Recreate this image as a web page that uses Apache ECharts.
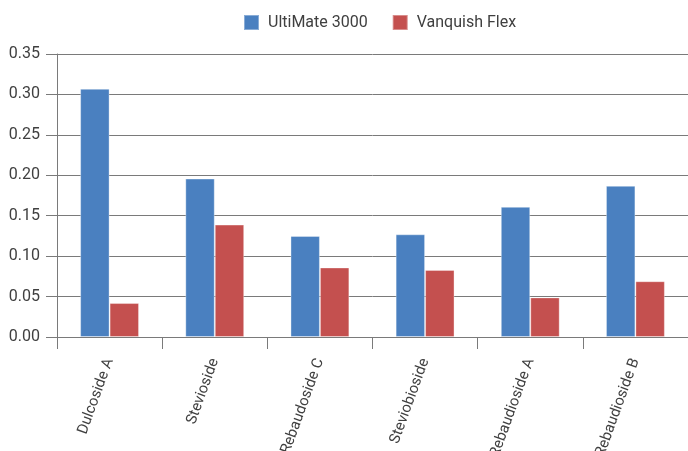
<!DOCTYPE html>
<html>
<head>
<meta charset="utf-8">
<script src="https://cdn.jsdelivr.net/npm/echarts@6/dist/echarts.min.js"></script>
<style>html,body{margin:0;padding:0;background:#fff}#c{width:688px;height:451px}</style>
</head>
<body>
<div id="c"></div>
<script>
var categories = ['Dulcoside A', 'Stevioside', 'Rebaudoside C', 'Steviobioside', 'Rebaudioside A', 'Rebaudioside B'];
var ultimate3000 = [0.307, 0.196, 0.125, 0.127, 0.161, 0.187];
var vanquishFlex = [0.042, 0.139, 0.086, 0.083, 0.049, 0.069];
var seriesNames = ['UltiMate 3000', 'Vanquish Flex'];
var yTicks = {min: 0, max: 0.35, interval: 0.05};

var chart = echarts.init(document.getElementById('c'));
var font = 'Roboto';
var txt = '#404040';
var gridCol = '#7a7a7a';
chart.setOption({
  animation: false,
  color: ['#4a80c0', '#c4504f'],
  legend: {
    top: 9, left: 238,
    itemWidth: 15, itemHeight: 15, itemGap: 24,
    icon: 'rect',
    textStyle: {fontFamily: font, fontSize: 16, color: txt, padding: [0, 0, 0, 4]},
    data: seriesNames
  },
  grid: {left: 57, right: 0, top: 54, bottom: 114, containLabel: false, outerBoundsMode: 'none'},
  xAxis: {
    type: 'category',
    data: categories,
    axisLine: {lineStyle: {color: gridCol, width: 1}},
    axisTick: {show: true, length: 12, alignWithLabel: false, lineStyle: {color: gridCol}},
    axisLabel: {rotate: 70, margin: 22, interval: 0, fontFamily: font, fontSize: 15, color: txt}
  },
  yAxis: {
    type: 'value',
    min: yTicks.min, max: yTicks.max, interval: yTicks.interval,
    axisLine: {show: true, lineStyle: {color: gridCol, width: 1}},
    axisTick: {show: true, length: 11, lineStyle: {color: gridCol}},
    splitLine: {lineStyle: {color: gridCol, width: 1}},
    axisLabel: {margin: 17, fontFamily: font, fontSize: 16, color: txt,
      formatter: function (v) { return v.toFixed(2); }}
  },
  series: [
    {name: seriesNames[0], type: 'bar', data: ultimate3000, barGap: '0%', barCategoryGap: '44%',
     itemStyle: {borderColor: 'rgba(255,255,255,0.35)', borderWidth: 1}},
    {name: seriesNames[1], type: 'bar', data: vanquishFlex, barGap: '0%', barCategoryGap: '44%',
     itemStyle: {borderColor: 'rgba(255,255,255,0.35)', borderWidth: 1}}
  ]
});
</script>
</body>
</html>
